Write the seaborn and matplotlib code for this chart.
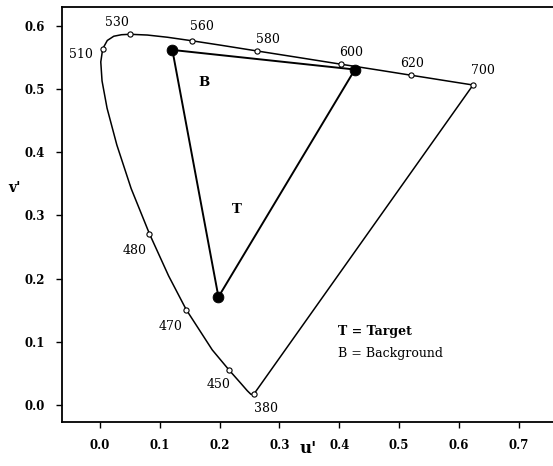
import matplotlib
matplotlib.use("Agg")
import matplotlib.pyplot as plt
import seaborn as sns
import pandas as pd

# Spectral locus (CIE 1976 u', v') — wavelengths in nm
locus_nm = [380, 420, 430, 440, 450, 460, 470, 475, 480, 485, 490, 495, 500, 505,
            510, 515, 520, 525, 530, 540, 550, 560, 570, 580, 590, 600, 610, 620,
            630, 640, 650, 700]
locus_u = [0.2568, 0.2522, 0.2461, 0.2347, 0.2161, 0.1877, 0.1441, 0.1147, 0.0828,
           0.0521, 0.0282, 0.0119, 0.0035, 0.0014, 0.0046, 0.0123, 0.0231, 0.0360,
           0.0501, 0.0792, 0.1127, 0.1531, 0.2026, 0.2623, 0.3315, 0.4035, 0.4692,
           0.5203, 0.5565, 0.5830, 0.6005, 0.6234]
locus_v = [0.0166, 0.0169, 0.0226, 0.0350, 0.0549, 0.0871, 0.1510, 0.2044, 0.2708,
           0.3427, 0.4117, 0.4698, 0.5130, 0.5430, 0.5638, 0.5770, 0.5837, 0.5861,
           0.5868, 0.5856, 0.5821, 0.5766, 0.5694, 0.5604, 0.5501, 0.5393, 0.5296,
           0.5219, 0.5165, 0.5125, 0.5099, 0.5065]

# Marked wavelengths and their label positions
marked_nm = [380, 450, 470, 480, 510, 530, 560, 580, 600, 620, 700]
label_u = [0.278, 0.198, 0.118, 0.058, -0.031, 0.029, 0.170, 0.281, 0.420, 0.521, 0.640]
label_v = [-0.006, 0.033, 0.124, 0.244, 0.555, 0.605, 0.599, 0.579, 0.558, 0.541, 0.529]

# Triangle vertices (background, background, target)
tri_u = [0.121, 0.426, 0.198, 0.121]
tri_v = [0.562, 0.531, 0.171, 0.562]

x_ticks = [0.0, 0.1, 0.2, 0.3, 0.4, 0.5, 0.6, 0.7]
y_ticks = [0.0, 0.1, 0.2, 0.3, 0.4, 0.5, 0.6]

sns.set_style("ticks")
plt.rcParams['font.family'] = ['DejaVu Serif']
plt.rcParams['text.color'] = 'black'
plt.rcParams['axes.labelcolor'] = 'black'
plt.rcParams['xtick.color'] = 'black'
plt.rcParams['ytick.color'] = 'black'
plt.rcParams['axes.edgecolor'] = 'black'

fig = plt.figure(figsize=(5.53, 4.66), dpi=100)
ax = fig.add_axes([0.112, 0.0944, 0.888, 0.8906])

df_locus = pd.DataFrame({"u": locus_u + [locus_u[0]], "v": locus_v + [locus_v[0]]})
sns.lineplot(data=df_locus, x="u", y="v", sort=False, color="black", linewidth=1.1,
             ax=ax, estimator=None)

mk = pd.DataFrame({"nm": locus_nm, "u": locus_u, "v": locus_v})
mk = mk[mk["nm"].isin(marked_nm)]
sns.scatterplot(data=mk, x="u", y="v", s=14, facecolor="white", edgecolor="black",
                linewidth=0.8, ax=ax, zorder=3)

df_tri = pd.DataFrame({"u": tri_u, "v": tri_v})
sns.lineplot(data=df_tri, x="u", y="v", sort=False, color="black", linewidth=1.4,
             ax=ax, estimator=None)
sns.scatterplot(data=df_tri.iloc[:3], x="u", y="v", s=60, color="black",
                edgecolor="black", ax=ax, zorder=4)

for nm, lu, lv in zip(marked_nm, label_u, label_v):
    ax.text(lu, lv, str(nm), ha="center", va="center", fontsize=9, color="black")

ax.text(0.174, 0.511, "B", ha="center", va="center", fontsize=9.5, fontweight="bold")
ax.text(0.228, 0.310, "T", ha="center", va="center", fontsize=9.5, fontweight="bold")
ax.text(0.398, 0.117, "T = Target", ha="left", va="center", fontsize=9, fontweight="bold")
ax.text(0.398, 0.081, "B = Background", ha="left", va="center", fontsize=9)

ax.set_xlim(-0.0635, 0.757)
ax.set_ylim(-0.027, 0.630)
ax.set_xticks(x_ticks)
ax.set_yticks(y_ticks)
ax.set_xticklabels([f"{t:.1f}" for t in x_ticks], fontsize=8.5, fontweight="bold")
ax.set_yticklabels([f"{t:.1f}" for t in y_ticks], fontsize=8.5, fontweight="bold")
ax.tick_params(direction="out", length=4, width=1.0, pad=8)
ax.set_xlabel("u'", fontsize=12, fontweight="bold")
ax.set_ylabel("v'", fontsize=10, fontweight="bold", rotation=0)
ax.xaxis.label.set_va("center")
ax.yaxis.label.set_va("center")
ax.yaxis.label.set_ha("center")
ax.xaxis.set_label_coords(0.501, -0.063)
ax.yaxis.set_label_coords(-0.096, 0.564)

for side in ["left", "bottom", "top"]:
    ax.spines[side].set_linewidth(1.3)
ax.spines["right"].set_visible(False)

fig.savefig("out.png", dpi=100)
